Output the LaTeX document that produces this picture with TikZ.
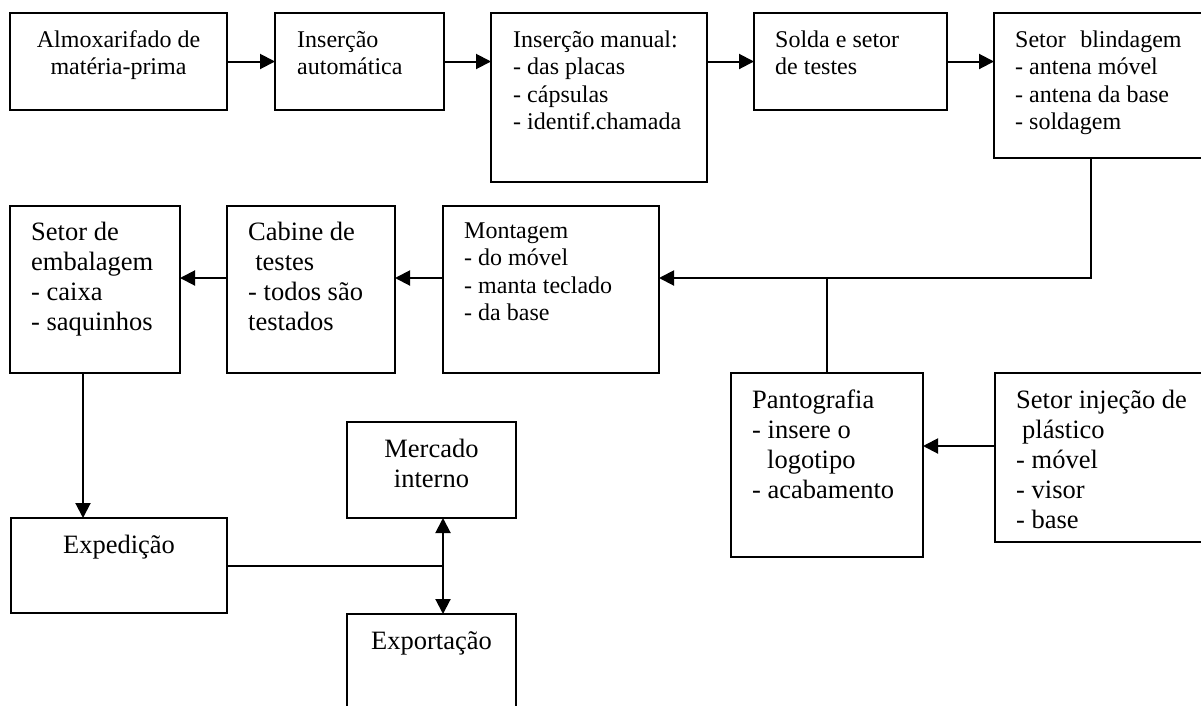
\documentclass[tikz,border=0pt]{standalone}
\usepackage{fontspec}
\setmainfont{Liberation Serif}
\usetikzlibrary{arrows.meta}
\newcommand{\smallfnt}{\fontsize{24}{27.5}\selectfont}
\newcommand{\largefnt}{\fontsize{26.5}{30}\selectfont}
\begin{document}
\begin{tikzpicture}[x=1pt,y=-1pt,
  bx/.style={draw, line width=2pt, inner sep=0pt, outer sep=0pt, anchor=north west},
  txt/.style={inner sep=0pt, align=left, anchor=north west},
  ctxt/.style={inner sep=0pt, align=center, anchor=north},
  arr/.style={line width=2pt, -{Triangle[length=15pt,width=15pt]}},
  ln/.style={line width=2pt}]
\useasboundingbox (0,0) rectangle (1201,705);
\fill[white] (0,0) rectangle (1201,705);
\clip (0,0) rectangle (1201,705);
% boxes
\node[bx, minimum width=217, minimum height=97] (alm) at (10,13) {};
\node[bx, minimum width=169, minimum height=97] (ia) at (275,13) {};
\node[bx, minimum width=216, minimum height=169] (im) at (491,13) {};
\node[bx, minimum width=193, minimum height=97] (sol) at (754,13) {};
\node[bx, minimum width=221, minimum height=145] (blind) at (994,13) {};
\node[bx, minimum width=170, minimum height=167] (emb) at (10,206) {};
\node[bx, minimum width=168, minimum height=167] (cab) at (227,206) {};
\node[bx, minimum width=216, minimum height=167] (mont) at (443,206) {};
\node[bx, minimum width=192, minimum height=184] (pant) at (731,373) {};
\node[bx, minimum width=220, minimum height=169] (inj) at (995,373) {};
\node[bx, minimum width=169, minimum height=96] (merc) at (347,422) {};
\node[bx, minimum width=216, minimum height=95] (exped) at (11,518) {};
\node[bx, minimum width=169, minimum height=106] (expo) at (347,614) {};
% texts
\node[ctxt, font=\smallfnt] (talm) at (118.5,27.75) {\strut Almoxarifado de\\matéria-prima};
\node[txt, font=\smallfnt] (tia) at (297,27.75) {\strut Inserção\\automática};
\node[txt, font=\smallfnt] (tim) at (513,27.75) {\strut Inserção manual:\\- das placas\\- cápsulas\\- identif.chamada};
\node[txt, font=\smallfnt] (tsol) at (775,27.75) {\strut Solda e setor\\de testes};
\node[txt, font=\smallfnt] (tblind) at (1015,27.75) {\strut Setor\hspace{0.6em}blindagem\\- antena móvel\\- antena da base\\- soldagem};
\node[txt, font=\largefnt] (temb) at (31,219) {\strut Setor de\\embalagem\\- caixa\\- saquinhos};
\node[txt, font=\largefnt] (tcab) at (248,219) {\strut Cabine de\\\hspace{0.27em}testes\\- todos são\\testados};
\node[txt, font=\smallfnt] (tmont) at (464,218.75) {\strut Montagem\\- do móvel\\- manta teclado\\- da base};
\node[txt, font=\largefnt] (tpant) at (752,387) {\strut Pantografia\\- insere o\\\hspace{15pt}logotipo\\- acabamento};
\node[txt, font=\largefnt] (tinj) at (1016,387) {\strut Setor injeção de\\\hspace{6pt}plástico\\- móvel\\- visor\\- base};
\node[ctxt, font=\largefnt] (tmerc) at (431.5,436) {\strut Mercado\\interno};
\node[ctxt, font=\largefnt] (texped) at (119,532) {\strut Expedição};
\node[ctxt, font=\largefnt] (texpo) at (431.5,628) {\strut Exportação};
% junction coordinates
\coordinate (j1) at (1091,278);
\coordinate (j2) at (83,278);
\coordinate (j3) at (443,566);
\coordinate (j4) at (960,446);
% connectors
\draw[arr] (alm.east) -- (ia.west);
\draw[arr] (ia.east) -- (ia.east -| im.west);
\draw[arr] (im.east |- sol.west) -- (sol.west);
\draw[arr] (sol.east) -- (sol.east -| blind.west);
\draw[arr] (blind.south -| j1) -- (j1) -- (j1 -| mont.east);
\draw[ln] (pant.north) -- (pant.north |- j1);
\draw[arr] (inj.west |- j4) -- (pant.east |- j4);
\draw[arr] (mont.west |- j1) -- (cab.east |- j1);
\draw[arr] (cab.west |- j1) -- (emb.east |- j1);
\draw[arr] (emb.south -| j2) -- (exped.north -| j2);
\draw[ln] (exped.east |- j3) -- (j3);
\draw[arr] (j3) -- (j3 |- merc.south);
\draw[arr] (j3) -- (j3 |- expo.north);
\end{tikzpicture}
\end{document}
